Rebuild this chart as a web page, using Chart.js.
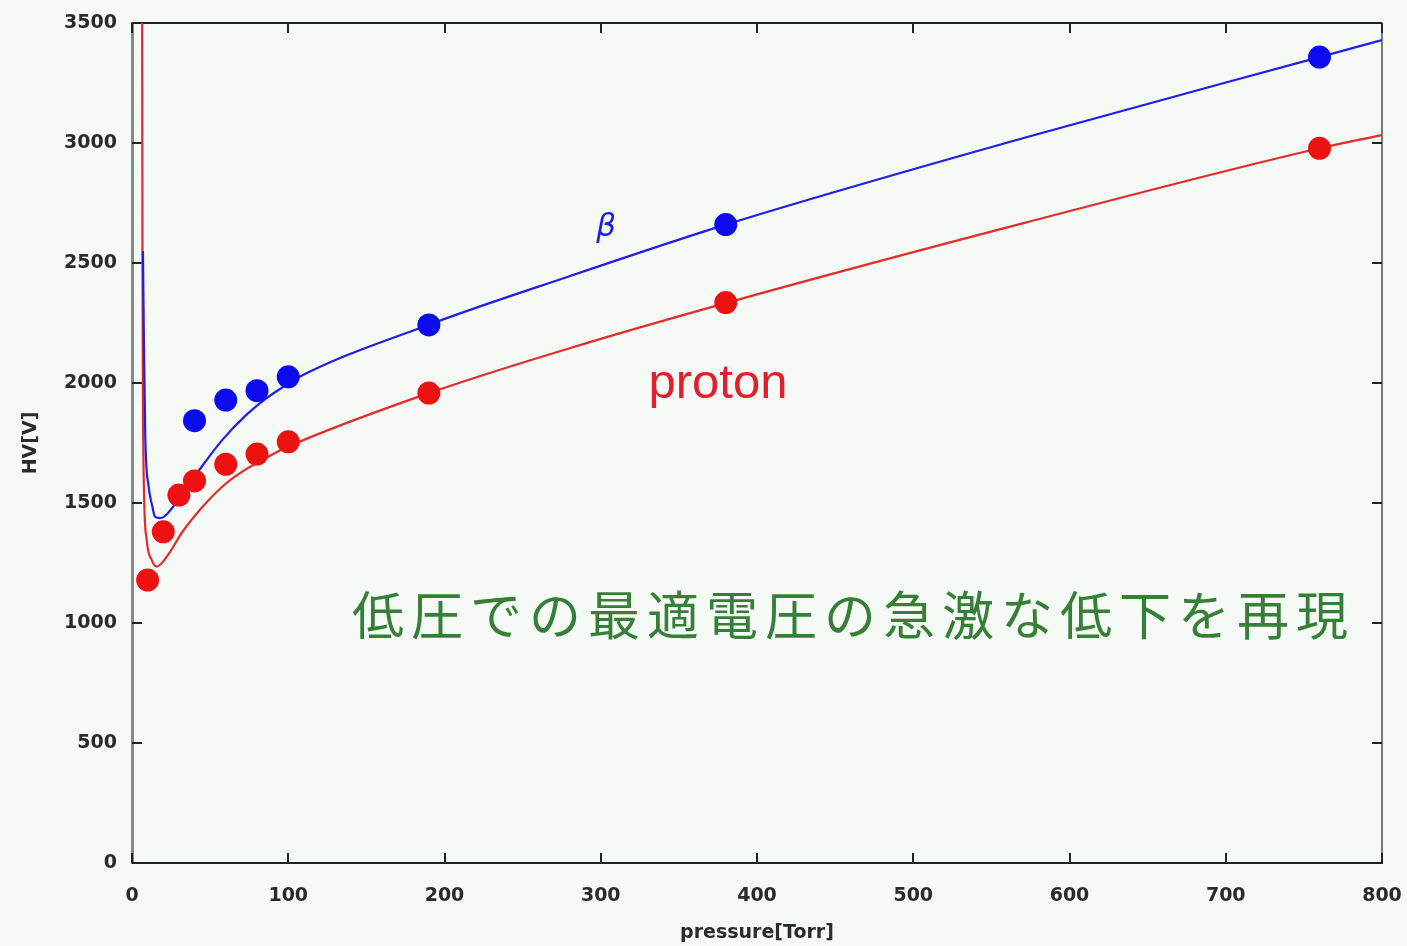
<!DOCTYPE html>
<html>
<head>
<meta charset="utf-8">
<title>HV vs pressure</title>
<script src="https://cdn.jsdelivr.net/npm/chart.js@4/dist/chart.umd.min.js"></script>
<style>
  html, body { margin: 0; padding: 0; background: #f5faf7; }
  #wrap { width: 1407px; height: 946px; }
</style>
</head>
<body>
<div id="wrap"><canvas id="c" width="1407" height="946"></canvas></div>
<script>
// Measured optimum voltages
const pressureProton = [10, 20, 30, 40, 60, 80, 100, 190, 380, 760];
const hvProton       = [1179, 1380, 1533, 1592, 1661, 1704, 1755, 1958, 2335, 2978];
const pressureBeta   = [40, 60, 80, 100, 190, 380, 760];
const hvBeta         = [1843, 1929, 1968, 2026, 2242, 2660, 3358];

// Model curves
const fitBetaP    = [7.0, 7.7, 8.5, 10.7, 12.8, 14.7, 17.9, 21.1, 33.9, 44.6, 57.4, 72.3, 85.1, 95.8, 105.4, 189.6, 280, 380, 570, 760, 800];
const fitBetaHV   = [2550, 2138, 1775, 1567, 1492, 1443, 1437, 1446, 1554, 1651, 1760, 1862, 1932, 1980, 2020, 2242, 2445, 2660, 3020, 3358, 3429];
const fitProtonP  = [6.5, 6.7, 7.0, 7.7, 9.4, 12.6, 15.8, 23.2, 31.8, 44.6, 59.5, 72.3, 87.2, 100, 189.6, 280, 380, 570, 760, 800];
const fitProtonHV = [3500, 2500, 1929, 1542, 1346, 1263, 1235, 1285, 1375, 1480, 1578, 1638, 1693, 1735, 1957, 2145, 2333, 2665, 2978, 3033];

// Axis ticks
const xTickValues = [0, 100, 200, 300, 400, 500, 600, 700, 800];
const yTickValues = [0, 500, 1000, 1500, 2000, 2500, 3000, 3500];

const zip = (xs, ys) => xs.map((x, i) => ({ x, y: ys[i] }));

const BG = '#f5faf7';
const TICK_FONT = { family: '"DejaVu Sans"', size: 19, weight: 'bold' };

const notes = [
  { text: 'β', x: 303.5, y: 2646, font: 'italic 31px "DejaVu Sans"', color: '#1c1ce6', align: 'center', baseline: 'middle', spacing: 0 },
  { text: 'proton', x: 375, y: 1937, font: '49px "Liberation Sans"', color: '#e0202a', align: 'center', baseline: 'alphabetic', spacing: 0 },
  { text: '低圧での最適電圧の急激な低下を再現', x: 140.8, y: 1033, font: '52px "Noto Sans CJK JP"', color: '#367f36', align: 'left', baseline: 'middle', spacing: 7 }
];

const background = {
  id: 'background',
  beforeDraw(chart) {
    const ctx = chart.ctx;
    ctx.save();
    ctx.fillStyle = BG;
    ctx.fillRect(0, 0, chart.width, chart.height);
    ctx.restore();
  }
};

// Frame on all four sides with inward tick marks
const frame = {
  id: 'frame',
  beforeDatasetsDraw(chart) {
    const { ctx, chartArea: a, scales: { x, y } } = chart;
    const len = 10;
    ctx.save();
    ctx.lineWidth = 2;
    ctx.strokeStyle = '#222';
    ctx.beginPath();
    ctx.moveTo(a.left, a.top); ctx.lineTo(a.right, a.top);
    ctx.stroke();
    ctx.strokeStyle = '#7a7a7a';
    ctx.beginPath();
    ctx.moveTo(a.right, a.top); ctx.lineTo(a.right, a.bottom);
    ctx.stroke();
    ctx.strokeStyle = '#222';
    ctx.lineWidth = 2;
    ctx.beginPath();
    x.ticks.forEach(t => {
      const px = Math.round(x.getPixelForValue(t.value));
      ctx.moveTo(px, a.bottom); ctx.lineTo(px, a.bottom - len);
      ctx.moveTo(px, a.top); ctx.lineTo(px, a.top + len);
    });
    y.ticks.forEach(t => {
      const py = Math.round(y.getPixelForValue(t.value));
      ctx.moveTo(a.left, py); ctx.lineTo(a.left + len, py);
      ctx.moveTo(a.right, py); ctx.lineTo(a.right - len, py);
    });
    ctx.stroke();
    ctx.restore();
  }
};

const labels = {
  id: 'labels',
  afterDatasetsDraw(chart) {
    const { ctx, scales: { x, y } } = chart;
    ctx.save();
    notes.forEach(n => {
      ctx.font = n.font;
      ctx.fillStyle = n.color;
      ctx.textAlign = n.align;
      ctx.textBaseline = n.baseline;
      ctx.letterSpacing = n.spacing + 'px';
      ctx.fillText(n.text, x.getPixelForValue(n.x), y.getPixelForValue(n.y));
    });
    ctx.restore();
  }
};

new Chart(document.getElementById('c'), {
  type: 'scatter',
  data: {
    datasets: [
      {
        label: 'proton data', data: zip(pressureProton, hvProton), order: 0,
        backgroundColor: '#ee1111', borderWidth: 0, pointRadius: 11.5, pointHoverRadius: 11.5, showLine: false
      },
      {
        label: 'beta data', data: zip(pressureBeta, hvBeta), order: 0,
        backgroundColor: '#0b0bee', borderWidth: 0, pointRadius: 11.5, pointHoverRadius: 11.5, showLine: false
      },
      {
        label: 'beta fit', data: zip(fitBetaP, fitBetaHV), order: 1,
        showLine: true, borderColor: '#1e1ee8', borderWidth: 2.2, pointRadius: 0,
        cubicInterpolationMode: 'monotone'
      },
      {
        label: 'proton fit', data: zip(fitProtonP, fitProtonHV), order: 2,
        showLine: true, borderColor: '#e52a2a', borderWidth: 2.2, pointRadius: 0,
        cubicInterpolationMode: 'monotone'
      }
    ]
  },
  options: {
    responsive: false,
    animation: false,
    events: [],
    layout: { padding: { top: 23, right: 25, left: 0, bottom: 0 } },
    plugins: { legend: { display: false }, tooltip: { enabled: false } },
    scales: {
      x: {
        type: 'linear', min: 0, max: 800,
        afterBuildTicks: s => { s.ticks = xTickValues.map(v => ({ value: v })); },
        afterFit: s => { s.height = 83; s.paddingLeft = 0; s.paddingRight = 0; },
        grid: { display: false, drawTicks: false },
        border: { display: true, color: '#222', width: 2 },
        ticks: { padding: 22, color: '#2a2a2a', font: TICK_FONT, maxRotation: 0, callback: v => String(v) },
        title: { display: true, text: 'pressure[Torr]', color: '#2a2a2a', font: TICK_FONT, padding: { top: 0, bottom: 2 } }
      },
      y: {
        type: 'linear', min: 0, max: 3500,
        afterBuildTicks: s => { s.ticks = yTickValues.map(v => ({ value: v })); },
        afterFit: s => { s.width = 132; s.paddingTop = 0; s.paddingBottom = 0; },
        grid: { display: false, drawTicks: false },
        border: { display: true, color: '#888', width: 3 },
        ticks: { padding: 15, color: '#2a2a2a', font: TICK_FONT, callback: v => String(v) },
        title: { display: true, text: 'HV[V]', color: '#2a2a2a', font: TICK_FONT, padding: { top: 20, bottom: 0 } }
      }
    }
  },
  plugins: [background, frame, labels]
});
</script>
</body>
</html>
